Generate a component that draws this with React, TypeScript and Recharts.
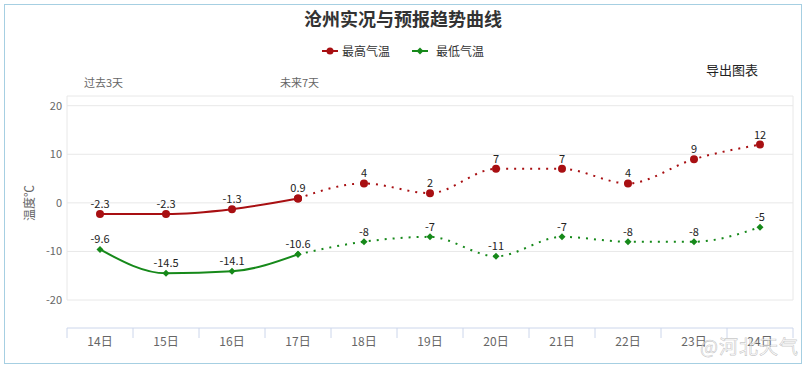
import React from 'react';
import { LineChart, Line, XAxis, YAxis, CartesianGrid, LabelList } from 'recharts';

const days = ['14日', '15日', '16日', '17日', '18日', '19日', '20日', '21日', '22日', '23日', '24日'];
const highPast = [-2.3, -2.3, -1.3, 0.9];
const lowPast = [-9.6, -14.5, -14.1, -10.6];
const highFuture = [4, 2, 7, 7, 4, 9, 12];
const lowFuture = [-8, -7, -11, -7, -8, -8, -5];
const yTicks = [-20, -10, 0, 10, 20];
const seriesNames = ['最高气温', '最低气温'];
const periodLabels = ['过去3天', '未来7天'];

const RED = '#a80f12';
const GREEN = '#16891a';
const FONT = '"Noto Sans CJK SC", "Noto Sans", sans-serif';

const lastPast = highPast.length - 1;
const data = days.map((d, i) => {
  const fi = i - highPast.length;
  return {
    i,
    day: d,
    highP: i <= lastPast ? highPast[i] : null,
    lowP: i <= lastPast ? lowPast[i] : null,
    highF: i === lastPast ? highPast[lastPast] : fi >= 0 ? highFuture[fi] : null,
    lowF: i === lastPast ? lowPast[lastPast] : fi >= 0 ? lowFuture[fi] : null,
    highFL: fi >= 0 ? highFuture[fi] : null,
    lowFL: fi >= 0 ? lowFuture[fi] : null,
  };
});

const centers = days.map((_, i) => i);
const bounds = [...days.map((_, i) => i - 0.5), days.length - 0.5];
const xDomain: [number, number] = [-0.5, days.length - 0.5];

const Diamond = (props: any) => {
  const { cx, cy } = props;
  if (cx == null || cy == null) return null;
  const r = 3.5;
  return <path d={`M${cx},${cy - r}L${cx + r},${cy}L${cx},${cy + r}L${cx - r},${cy}Z`} fill={GREEN} />;
};

const labelStyle = { fontSize: 11, fill: '#222', fontFamily: FONT };

export default function App() {
  return (
    <div style={{ position: 'absolute', left: 0, top: 0, width: 806, height: 369, background: '#fff', fontFamily: FONT }}>
      <div style={{ position: 'absolute', left: 4, top: 4, width: 796, height: 358, border: '1px solid #a6cfe2' }} />
      <div style={{ position: 'absolute', left: 0, top: 7, width: 806, textAlign: 'center', fontSize: 18, fontWeight: 'bold', color: '#333', lineHeight: '22px' }}>
        沧州实况与预报趋势曲线
      </div>
      <div style={{ position: 'absolute', left: 322, top: 43, fontSize: 12, color: '#333', lineHeight: '16px', display: 'flex', alignItems: 'center' }}>
        <svg width={16} height={10} style={{ marginRight: 4 }}>
          <line x1={0} y1={5} x2={16} y2={5} stroke={RED} strokeWidth={2} />
          <circle cx={8} cy={5} r={3.5} fill={RED} />
        </svg>
        <span>{seriesNames[0]}</span>
        <svg width={16} height={10} style={{ marginLeft: 22, marginRight: 8 }}>
          <line x1={0} y1={5} x2={16} y2={5} stroke={GREEN} strokeWidth={2} />
          <path d="M8,1.5L11.5,5L8,8.5L4.5,5Z" fill={GREEN} />
        </svg>
        <span>{seriesNames[1]}</span>
      </div>
      <div style={{ position: 'absolute', left: 706, top: 61, fontSize: 13, color: '#222', lineHeight: '18px' }}>导出图表</div>
      <div style={{ position: 'absolute', left: 84, top: 75, fontSize: 11, color: '#666', lineHeight: '14px' }}>{periodLabels[0]}</div>
      <div style={{ position: 'absolute', left: 280, top: 75, fontSize: 11, color: '#666', lineHeight: '14px' }}>{periodLabels[1]}</div>
      <div style={{ position: 'absolute', left: 0, top: 0 }}>
        <LineChart width={806} height={369} data={data} margin={{ top: 96, right: 13, bottom: 6, left: 20 }}>
          <CartesianGrid xAxisId="a" yAxisId="y" stroke="#e8e8e8" strokeWidth={1} />
          <XAxis xAxisId="a" type="number" dataKey="i" domain={xDomain} ticks={bounds} axisLine={false} tickLine={false} tick={false} height={28} allowDataOverflow />
          <XAxis xAxisId="b" type="number" dataKey="i" domain={xDomain} ticks={bounds} axisLine={{ stroke: '#ccd6eb' }} tickLine={{ stroke: '#ccd6eb' }} tickSize={10} tickFormatter={() => ''} height={9} allowDataOverflow />
          <XAxis xAxisId="c" type="number" dataKey="i" domain={xDomain} ticks={centers} tickFormatter={(v: number) => days[v] ?? ''} axisLine={false} tickLine={false} tickSize={0} tickMargin={0} height={26} tick={{ fontSize: 12, fill: '#666', fontFamily: FONT }} allowDataOverflow />
          <YAxis yAxisId="y" type="number" domain={[-20, 22]} ticks={yTicks} width={47} axisLine={false} tickLine={false} tickSize={0} tickMargin={5} tick={{ fontSize: 11, fill: '#666', fontFamily: FONT }} allowDataOverflow
            label={{ content: () => (
              <text x={31} y={203} transform="rotate(-90 31 203)" textAnchor="middle" dominantBaseline="middle" fontSize={12} fill="#666" fontFamily={FONT}>温度℃</text>
            ) }} />
          <Line xAxisId="a" yAxisId="y" dataKey="highP" type="monotone" stroke={RED} strokeWidth={2} dot={{ r: 4, fill: RED, stroke: RED, strokeWidth: 0 }} activeDot={false} isAnimationActive={false}>
            <LabelList dataKey="highP" position="top" offset={6} style={labelStyle} />
          </Line>
          <Line xAxisId="a" yAxisId="y" dataKey="highF" type="monotone" stroke={RED} strokeWidth={2} strokeDasharray="2 6" dot={{ r: 4, fill: RED, stroke: RED, strokeWidth: 0 }} activeDot={false} isAnimationActive={false}>
            <LabelList dataKey="highFL" position="top" offset={6} style={labelStyle} />
          </Line>
          <Line xAxisId="a" yAxisId="y" dataKey="lowP" type="monotone" stroke={GREEN} strokeWidth={2} dot={<Diamond />} activeDot={false} isAnimationActive={false}>
            <LabelList dataKey="lowP" position="top" offset={6} style={labelStyle} />
          </Line>
          <Line xAxisId="a" yAxisId="y" dataKey="lowF" type="monotone" stroke={GREEN} strokeWidth={2} strokeDasharray="2 6" dot={<Diamond />} activeDot={false} isAnimationActive={false}>
            <LabelList dataKey="lowFL" position="top" offset={6} style={labelStyle} />
          </Line>
        </LineChart>
      </div>
      <div style={{ position: 'absolute', left: 700, top: 334, fontSize: 19, color: 'rgba(255,255,255,0.6)', WebkitTextStroke: '0.6px rgba(150,150,150,0.55)', lineHeight: '24px', letterSpacing: 1 }}>@河北天气</div>
    </div>
  );
}
